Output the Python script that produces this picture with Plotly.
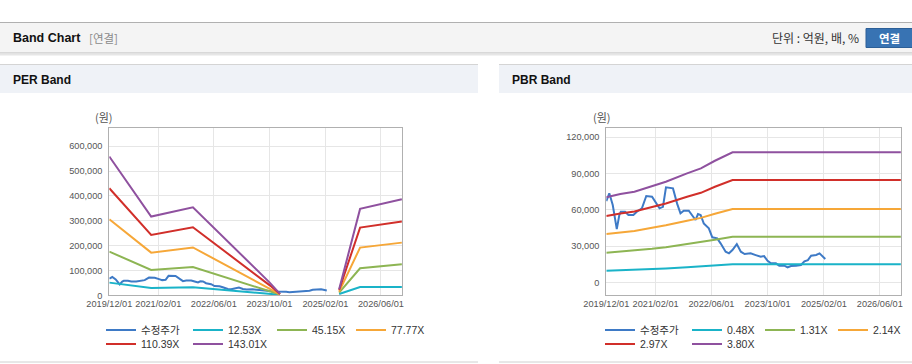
import plotly.graph_objects as go

# ---------------- data ----------------
price_dates = ['2019-12-01', '2019-12-27', '2020-01-26', '2020-03-01', '2020-03-23', '2020-04-05',
               '2020-05-12', '2020-06-10', '2020-07-23', '2020-08-22', '2020-10-05', '2020-11-12',
               '2021-01-01', '2021-02-08', '2021-03-07', '2021-04-06', '2021-05-02', '2021-07-02',
               '2021-08-06', '2021-09-05', '2021-10-03', '2021-11-16', '2021-12-16', '2022-01-14',
               '2022-02-04', '2022-02-27', '2022-03-26', '2022-05-09', '2022-06-08', '2022-07-21',
               '2022-08-19', '2022-10-02', '2022-10-31', '2022-11-30', '2023-01-07', '2023-02-11',
               '2023-03-16', '2023-05-07', '2023-06-20', '2023-08-03', '2023-09-01', '2023-10-01',
               '2023-10-30', '2023-12-12', '2024-01-11', '2024-02-24', '2024-03-23', '2024-04-21',
               '2024-06-04', '2024-07-17', '2024-08-16', '2024-09-15', '2024-10-13', '2024-11-26',
               '2024-12-25', '2025-01-24', '2025-02-13']
price_values = [67000, 73500, 63800, 44000, 55600, 58300,
                58300, 55600, 55600, 58300, 61100, 71300,
                70700, 65200, 61100, 62400, 78500, 77600,
                65200, 57000, 59100, 59100, 55600, 51500,
                56400, 55600, 48700, 44600, 37200, 36300,
                32200, 25300, 24000, 26700, 31600, 25300,
                23400, 24000, 22500, 21100, 21700, 17800,
                15700, 15700, 13800, 13800, 12400, 13500,
                13800, 14300, 17300, 18400, 22000, 22600,
                23900, 21200, 19300]

per_dates = ['2019-12-01', '2020-12-01', '2021-12-01', '2023-10-01', '2024-01-01',
             '2024-07-01', '2025-06-01', '2025-12-01', '2026-12-01']
per_12_53x = [51000, 29500, 32500, 8000, 2000, None, 5000, 33600, 33600]
per_45_15x = [175800, 102000, 114000, 18000, 3000, None, 10700, 108700, 124800]
per_77_77x = [306000, 171700, 192500, 29000, 4000, None, 14800, 192000, 212000]
per_110_39x = [430900, 243000, 273800, 41000, 5000, None, 21500, 272500, 296600]
per_143_01x = [558400, 316800, 354400, 52000, 6000, None, 24000, 347700, 386600]

pbr_dates = ['2019-12-01', '2020-04-01', '2020-08-01', '2021-01-01', '2021-05-01',
             '2021-11-01', '2022-03-01', '2022-07-01', '2022-12-01', '2026-12-01']
pbr_0_48x = [9500, 9900, 10180, 10880, 11410, 12430, 13050, 13970, 15000, 15000]
pbr_1_31x = [24450, 25410, 26090, 27750, 29030, 31490, 32970, 35190, 37660, 37660]
pbr_2_14x = [39890, 41400, 42450, 45050, 47060, 50900, 53210, 56680, 60540, 60540]
pbr_2_97x = [54760, 56930, 58450, 62190, 65080, 70610, 73940, 78930, 84490, 84490]
pbr_3_80x = [70200, 72900, 74800, 79500, 83100, 90000, 94150, 100400, 107370, 107370]

per_names = ['12.53X', '45.15X', '77.77X', '110.39X', '143.01X']
pbr_names = ['0.48X', '1.31X', '2.14X', '2.97X', '3.80X']
price_name = '수정주가'

tick_dates = ['2019-12-01', '2021-02-01', '2022-06-01', '2023-10-01', '2025-02-01', '2026-06-01']
tick_labels = ['2019/12/01', '2021/02/01', '2022/06/01', '2023/10/01', '2025/02/01', '2026/06/01']

colors = ['#3e7ac6', '#1ab3c8', '#8db553', '#f6a738', '#d12f2a', '#8f519f']

# ---------------- layout helpers ----------------
W, H = 912, 364
def X(px):
    return px / W
def Y(py):
    return 1 - py / H

KR = 'Noto Sans CJK KR'
TICKFONT = dict(family='Liberation Sans, ' + KR, size=9.2, color='#555555')
LEGFONT = dict(family='Liberation Sans, ' + KR, size=10.5, color='#333333')

fig = go.Figure()

# PER chart (legend column widths keep the two legend rows aligned)
per_cols = [42, 39, 34, 34, 42, 39]
fig.add_trace(go.Scatter(x=price_dates, y=price_values, name=price_name, mode='lines',
                         line=dict(color=colors[0], width=2), xaxis='x', yaxis='y',
                         legend='legend', legendwidth=per_cols[0]))
per_series = [per_12_53x, per_45_15x, per_77_77x, per_110_39x, per_143_01x]
for i, (nm, vals) in enumerate(zip(per_names, per_series)):
    fig.add_trace(go.Scatter(x=per_dates, y=vals, name=nm, mode='lines', connectgaps=False,
                             line=dict(color=colors[i + 1], width=2), xaxis='x', yaxis='y',
                             legend='legend' if i < 3 else 'legend2',
                             legendwidth=per_cols[i + 1]))

# PBR chart
pbr_cols = [42, 28, 28, 28, 42, 28]
fig.add_trace(go.Scatter(x=price_dates, y=price_values, name=price_name, mode='lines',
                         line=dict(color=colors[0], width=2), xaxis='x2', yaxis='y2',
                         legend='legend3', legendwidth=pbr_cols[0]))
pbr_series = [pbr_0_48x, pbr_1_31x, pbr_2_14x, pbr_2_97x, pbr_3_80x]
for i, (nm, vals) in enumerate(zip(pbr_names, pbr_series)):
    fig.add_trace(go.Scatter(x=pbr_dates, y=vals, name=nm, mode='lines',
                             line=dict(color=colors[i + 1], width=2), xaxis='x2', yaxis='y2',
                             legend='legend3' if i < 3 else 'legend4',
                             legendwidth=pbr_cols[i + 1]))

xcommon = dict(type='date', range=['2019-12-01', '2026-12-05'], tickmode='array',
               tickvals=tick_dates, ticktext=tick_labels, showgrid=True, gridcolor='#e6e6e6',
               showline=True, linecolor='#b0b0b0', linewidth=1, mirror=True, ticks='',
               tickangle=0, tickfont=TICKFONT, zeroline=False, fixedrange=True)
ycommon = dict(showgrid=True, gridcolor='#e6e6e6', showline=True, linecolor='#b0b0b0',
               linewidth=1, mirror=True, ticks='', tickfont=TICKFONT, zeroline=False,
               tickformat=',d', tickmode='linear', tick0=0, fixedrange=True, ticklabelstandoff=4)

fig.update_layout(
    width=W, height=H, margin=dict(l=0, r=0, t=0, b=0, autoexpand=False),
    paper_bgcolor='white', plot_bgcolor='white',
    xaxis=dict(xcommon, domain=[X(109.3), X(402.3)], anchor='y'),
    yaxis=dict(ycommon, domain=[Y(295.3), Y(128.3)], range=[0, 672000], dtick=100000, anchor='x'),
    xaxis2=dict(xcommon, domain=[X(606.3), X(901.3)], anchor='y2'),
    yaxis2=dict(ycommon, domain=[Y(295.3), Y(128.3)], range=[-10700, 127200], dtick=30000, anchor='x2'),
    showlegend=True,
)

leg = dict(orientation='h', xanchor='left', yanchor='middle', font=LEGFONT,
           bgcolor='rgba(0,0,0,0)', borderwidth=0, itemwidth=30, tracegroupgap=0,
           itemclick=False, itemdoubleclick=False)
fig.update_layout(
    legend=dict(leg, x=X(101), y=Y(330)),
    legend2=dict(leg, x=X(101), y=Y(344)),
    legend3=dict(leg, x=X(600), y=Y(330)),
    legend4=dict(leg, x=X(600), y=Y(344)),
)

# ---------------- page decoration ----------------
shapes = [
    dict(type='rect', x0=0, x1=1, y0=Y(53), y1=Y(22.5), fillcolor='#f4f4f4', line=dict(width=0)),
    dict(type='line', x0=0, x1=1, y0=Y(22.5), y1=Y(22.5), line=dict(color='#b0b0b0', width=1)),
    dict(type='line', x0=0, x1=1, y0=Y(53), y1=Y(53), line=dict(color='#bdbdbd', width=1)),
    dict(type='line', x0=0, x1=1, y0=Y(54.5), y1=Y(54.5), line=dict(color='#e6e6e6', width=2)),
    # panel headers
    dict(type='rect', x0=0, x1=X(478), y0=Y(93), y1=Y(64.5), fillcolor='#eff2f7', line=dict(width=0)),
    dict(type='line', x0=0, x1=X(478), y0=Y(64.5), y1=Y(64.5), line=dict(color='#d4d4d4', width=1)),
    dict(type='rect', x0=X(499), x1=1, y0=Y(93), y1=Y(64.5), fillcolor='#eff2f7', line=dict(width=0)),
    dict(type='line', x0=X(499), x1=1, y0=Y(64.5), y1=Y(64.5), line=dict(color='#d4d4d4', width=1)),
    # panel bottoms
    dict(type='line', x0=0, x1=X(478), y0=Y(362), y1=Y(362), line=dict(color='#d0d0d0', width=1)),
    dict(type='line', x0=X(499), x1=1, y0=Y(362), y1=Y(362), line=dict(color='#d0d0d0', width=1)),
    # button
    dict(type='rect', x0=X(866), x1=X(915), y0=Y(47.5), y1=Y(28.5), fillcolor='#3873b3',
         line=dict(color='#2c5f97', width=1)),
]
for s in shapes:
    s.update(xref='paper', yref='paper', layer='below')
fig.update_layout(shapes=shapes)

ann = [
    dict(text='<b>Band Chart</b>', x=X(11), y=Y(38), xanchor='left',
         font=dict(family='Liberation Sans', size=12.5, color='#111111')),
    dict(text='[연결]', x=X(87), y=Y(38), xanchor='left',
         font=dict(family=KR, size=11.5, color='#8a8a8a')),
    dict(text='단위 : 억원, 배, %', x=X(861), y=Y(38), xanchor='right',
         font=dict(family=KR, size=12, color='#333333')),
    dict(text='<b>연결</b>', x=X(889), y=Y(38), xanchor='center',
         font=dict(family=KR, size=11.5, color='#ffffff')),
    dict(text='<b>PER Band</b>', x=X(11), y=Y(80), xanchor='left',
         font=dict(family='Liberation Sans', size=12, color='#111111')),
    dict(text='<b>PBR Band</b>', x=X(510), y=Y(80), xanchor='left',
         font=dict(family='Liberation Sans', size=12, color='#111111')),
    dict(text='(원)', x=X(104), y=Y(117), xanchor='center',
         font=dict(family=KR, size=11, color='#555555')),
    dict(text='(원)', x=X(601.5), y=Y(117), xanchor='center',
         font=dict(family=KR, size=11, color='#555555')),
]
for a in ann:
    a.update(xref='paper', yref='paper', yanchor='middle', showarrow=False)
fig.update_layout(annotations=ann)

fig.write_html('out.html', config={'displayModeBar': False},
               post_script="document.body.style.margin='0';document.body.style.overflow='hidden';")
